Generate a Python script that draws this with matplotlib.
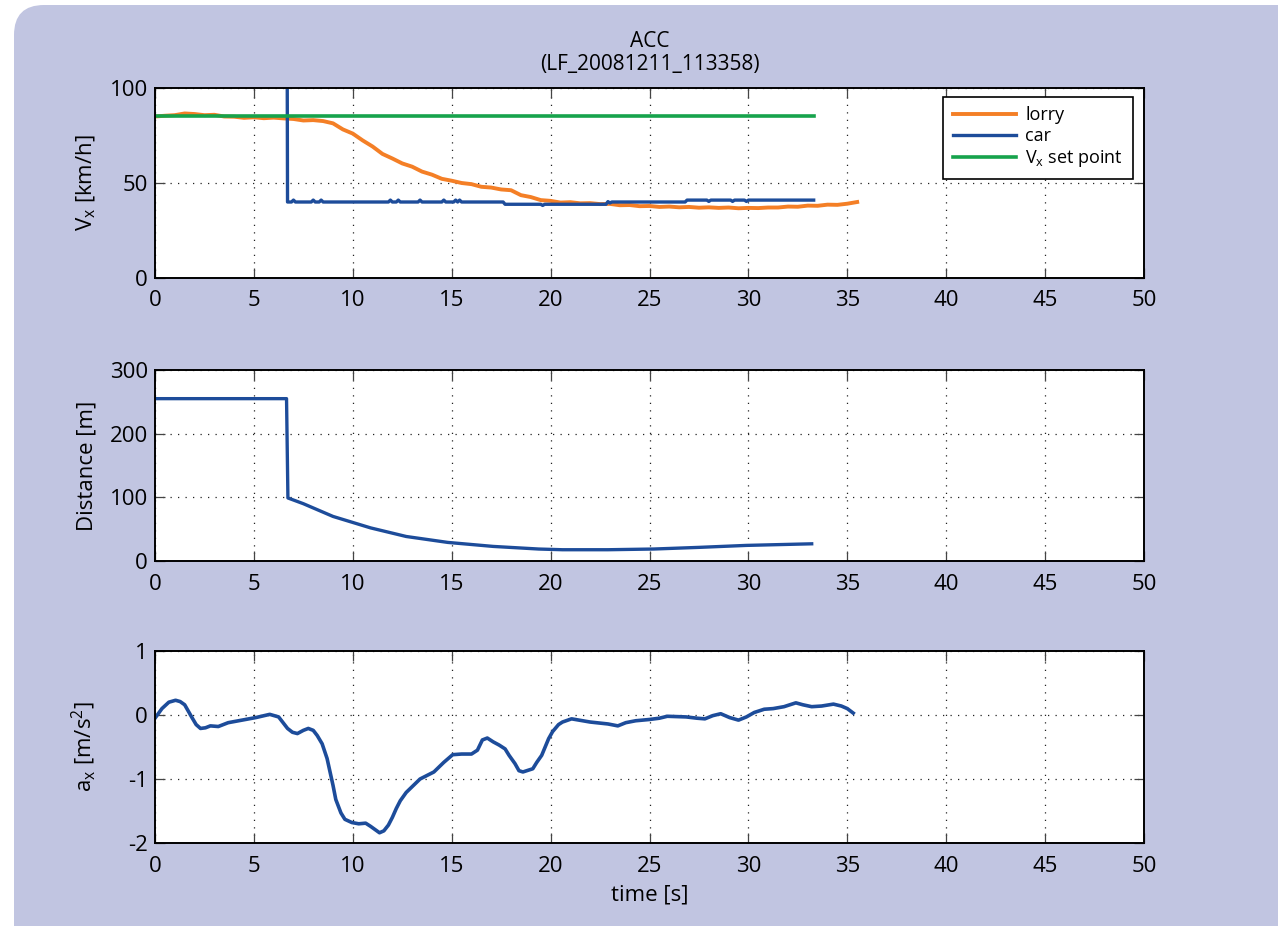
import matplotlib
matplotlib.use("Agg")
import matplotlib.pyplot as plt
from matplotlib.patches import FancyBboxPatch
from matplotlib.transforms import IdentityTransform

# ---------------- data ----------------
lorry_t = [0, 0.5, 1.0, 1.5, 2.0, 2.5, 3.0, 3.5, 4.0, 4.5, 5.0, 5.5, 6.0, 6.5, 7.0, 7.5,
           8.0, 8.5, 9.0, 9.5, 10.0, 10.5, 11.0, 11.5, 12.0, 12.5, 13.0, 13.5, 14.0, 14.5,
           15.0, 15.5, 16.0, 16.5, 17.0, 17.5, 18.0, 18.5, 19.0, 19.5, 20.0, 20.5, 21.0,
           21.5, 22.0, 22.5, 23.0, 23.5, 24.0, 24.5, 25.0, 25.5, 26.0, 26.5, 27.0, 27.5,
           28.0, 28.5, 29.0, 29.5, 30.0, 30.5, 31.0, 31.5, 32.0, 32.5, 33.0, 33.5, 34.0,
           34.5, 35.0, 35.5]
lorry_v = [85.0, 85.4, 85.7, 86.6, 86.3, 85.7, 85.9, 85.0, 84.9, 84.3, 84.6, 84.1, 84.4,
           84.0, 83.7, 82.9, 83.1, 82.6, 81.4, 78.2, 76.0, 72.4, 69.2, 65.3, 62.9, 60.3,
           58.6, 56.0, 54.4, 52.2, 51.2, 50.0, 49.4, 48.0, 47.6, 46.6, 46.2, 43.6, 42.6,
           41.0, 40.6, 39.7, 39.9, 39.3, 39.4, 38.9, 39.0, 38.3, 38.4, 37.8, 37.9, 37.4,
           37.6, 37.2, 37.4, 37.0, 37.2, 36.9, 37.1, 36.7, 36.9, 36.8, 37.1, 37.1, 37.6,
           37.5, 38.1, 38.0, 38.6, 38.5, 39.1, 40.0]

car_t = [0, 6.65, 6.7, 6.9, 7.0, 7.1, 7.9, 8.0, 8.1, 8.3, 8.4, 8.5, 11.8, 11.9, 12.0,
         12.2, 12.3, 12.4, 13.3, 13.4, 13.5, 14.5, 14.6, 14.7, 15.1, 15.2, 15.3, 15.4,
         15.5, 17.6, 17.7, 19.5, 19.6, 19.7, 22.8, 22.9, 23.0, 23.1, 26.8, 26.9, 27.9,
         28.0, 28.1, 29.1, 29.2, 29.3, 29.8, 29.9, 30.0, 33.3]
car_v = [255, 255, 40, 40, 41, 40, 40, 41, 40, 40, 41, 40, 40, 41, 40,
         40, 41, 40, 40, 41, 40, 40, 41, 40, 40, 41, 40, 41,
         40, 40, 38.8, 38.8, 38.2, 38.8, 38.8, 40.2, 39.5, 40.0, 40.0, 41.0, 41.0,
         40.3, 41.0, 41.0, 40.3, 41.0, 41.0, 40.3, 41.0, 41.0]

setpoint_t = [0, 33.3]
setpoint_v = [85.5, 85.5]

dist_t = [0, 6.65, 6.72, 7.5, 9.0, 10.9, 12.7, 14.8, 17.1, 19.4, 20.6, 22.9, 25.2,
          27.5, 29.9, 33.2]
dist_v = [255, 255, 99, 90, 70, 52, 38.5, 29.2, 22.9, 18.8, 17.7, 17.7, 18.8, 21.4,
          24.5, 27]

acc_t = [0, 0.35, 0.7, 1.04, 1.27, 1.5, 1.85, 2.08, 2.3, 2.55, 2.8, 3.2, 3.7, 4.4, 5.1,
         5.8, 6.25, 6.7, 6.95, 7.2, 7.5, 7.75, 8.0, 8.2, 8.45, 8.7, 9.0, 9.14, 9.4, 9.6,
         9.95, 10.3, 10.65, 10.9, 11.35, 11.57, 11.8, 12.0, 12.2, 12.4, 12.7, 13.4, 14.1,
         14.6, 15.05, 15.5, 16.0, 16.3, 16.55, 16.8, 17.1, 17.4, 17.7, 17.9, 18.2, 18.4,
         18.6, 19.1, 19.3, 19.55, 19.9, 20.1, 20.4, 20.6, 21.06, 22.0, 22.9, 23.4, 23.8,
         24.3, 25.0, 25.5, 25.9, 26.85, 27.4, 27.8, 28.2, 28.6, 29.05, 29.5, 29.9, 30.3,
         30.8, 31.25, 31.8, 32.4, 32.75, 33.2, 33.7, 34.3, 34.7, 35.0, 35.3]
acc_v = [-0.05, 0.10, 0.20, 0.23, 0.21, 0.16, -0.03, -0.15, -0.21, -0.20, -0.17, -0.18,
         -0.12, -0.08, -0.04, 0.01, -0.03, -0.21, -0.27, -0.29, -0.24, -0.21, -0.24,
         -0.32, -0.45, -0.68, -1.10, -1.32, -1.53, -1.63, -1.68, -1.70, -1.69, -1.74,
         -1.84, -1.81, -1.72, -1.60, -1.46, -1.34, -1.21, -1.00, -0.89, -0.74, -0.62,
         -0.61, -0.61, -0.55, -0.39, -0.36, -0.42, -0.47, -0.53, -0.63, -0.76, -0.87,
         -0.89, -0.84, -0.74, -0.63, -0.37, -0.26, -0.15, -0.11, -0.06, -0.11, -0.14,
         -0.17, -0.12, -0.09, -0.07, -0.05, -0.02, -0.03, -0.05, -0.06, -0.01, 0.02,
         -0.04, -0.08, -0.03, 0.04, 0.09, 0.10, 0.13, 0.19, 0.16, 0.13, 0.14, 0.17, 0.14,
         0.10, 0.03]

x_ticks = [0, 5, 10, 15, 20, 25, 30, 35, 40, 45, 50]
v_ticks = [0, 50, 100]
d_ticks = [0, 100, 200, 300]
a_ticks = [-2, -1, 0, 1]

title_text = "ACC\n(LF_20081211_113358)"

# ---------------- style ----------------
plt.rcParams['font.family'] = ['Open Sans', 'DejaVu Sans']
plt.rcParams['mathtext.default'] = 'regular'
plt.rcParams['axes.unicode_minus'] = False

ORANGE = '#f47f26'
BLUE = '#1d4c9a'
GREEN = '#16a34c'
BG = '#c1c5e1'

W, H = 1278, 926
fig = plt.figure(figsize=(W / 100, H / 100), dpi=100, facecolor='white')

bg = FancyBboxPatch((14, -60), 1400, H - 5 + 60,
                    boxstyle="round,pad=0,rounding_size=30",
                    transform=IdentityTransform(), facecolor=BG, edgecolor='none',
                    zorder=-10)
fig.patches.append(bg)

L = 155 / W
AW = (1144 - 155) / W

def make_ax(top_px, bot_px):
    return fig.add_axes([L, 1 - bot_px / H, AW, (bot_px - top_px) / H])

ax1 = make_ax(88, 278)
ax2 = make_ax(370, 561)
ax3 = make_ax(651, 843)

TS = 16
for ax in (ax1, ax2, ax3):
    ax.set_facecolor('white')
    ax.set_xlim(0, 50)
    ax.set_xticks(x_ticks)
    ax.grid(True, color='#222222', linestyle=(0, (1, 5)), linewidth=0.9)
    ax.tick_params(direction='in', top=True, right=True, length=7, width=0.9,
                   color='#444444', labelsize=TS)
    ax.tick_params(axis='x', pad=9)
    ax.tick_params(axis='y', pad=5)
    for s in ax.spines.values():
        s.set_linewidth(1.4)
        s.set_color('black')

# top: speeds
ax1.plot(lorry_t, lorry_v, color=ORANGE, lw=2.8, label='lorry')
ax1.plot(car_t, car_v, color=BLUE, lw=2.4, label='car')
ax1.plot(setpoint_t, setpoint_v, color=GREEN, lw=2.6, label='V$_x$ set point')
ax1.set_ylim(0, 100)
ax1.set_yticks(v_ticks)
ax1.set_ylabel('V$_x$ [km/h]', fontsize=TS)
ax1.set_title(title_text, fontsize=15, linespacing=1.1, pad=13)
leg = ax1.legend(loc='upper right', bbox_to_anchor=(0.989, 0.955), fontsize=13,
                 frameon=True, fancybox=False, edgecolor='black', framealpha=1,
                 handlelength=3.5, handletextpad=0.5, labelspacing=0.15,
                 borderpad=0.55, borderaxespad=0)
leg.get_frame().set_linewidth(1.2)

# middle: distance
ax2.plot(dist_t, dist_v, color=BLUE, lw=2.4)
ax2.set_ylim(0, 300)
ax2.set_yticks(d_ticks)
ax2.set_ylabel('Distance [m]', fontsize=TS)

# bottom: acceleration
ax3.plot(acc_t, acc_v, color=BLUE, lw=2.6)
ax3.set_ylim(-2, 1)
ax3.set_yticks(a_ticks)
ax3.set_ylabel('a$_x$ [m/s$^2$]', fontsize=TS)
ax3.set_xlabel('time [s]', fontsize=TS, labelpad=6)

for ax in (ax1, ax2, ax3):
    ax.yaxis.set_label_coords(-0.058, 0.5)

fig.savefig('out.png', dpi=100, facecolor='white')
